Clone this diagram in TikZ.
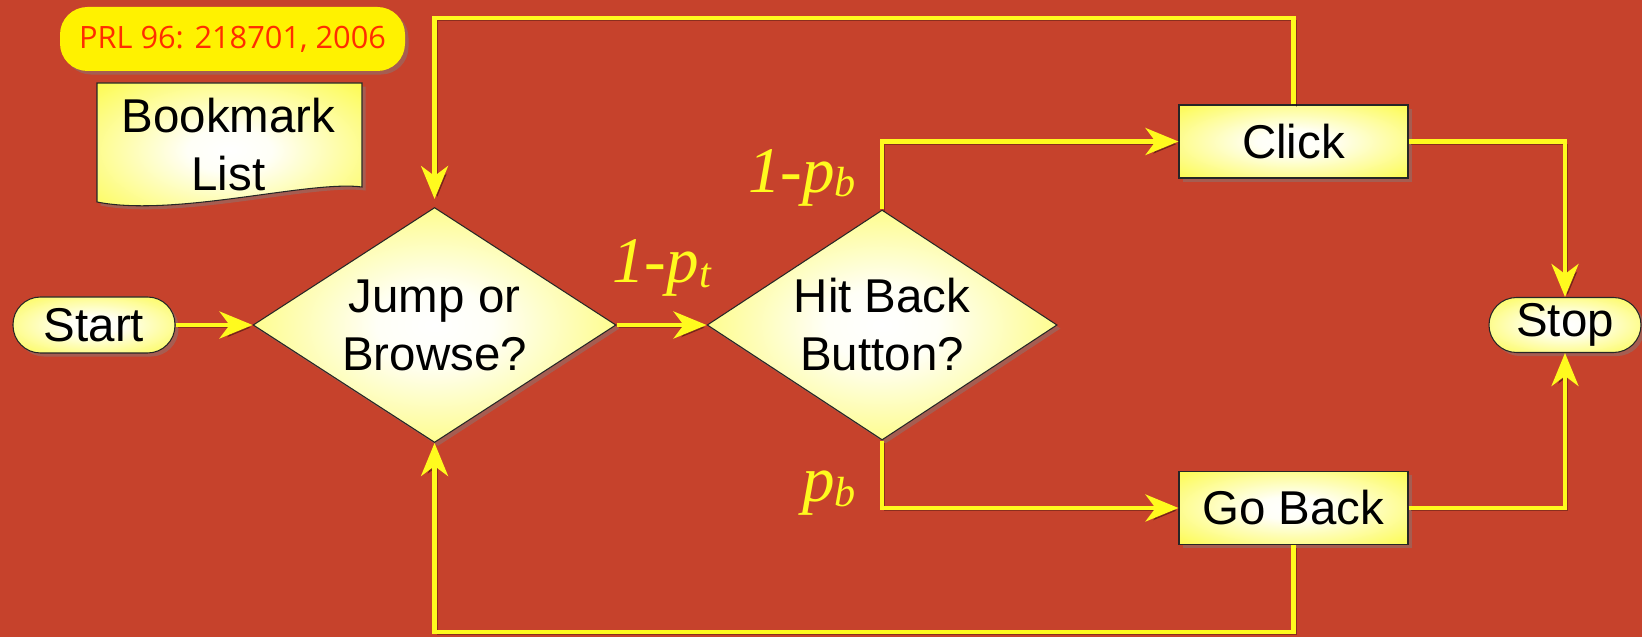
\documentclass[tikz,border=0pt]{standalone}
\usepackage{fontspec}
\setmainfont{Liberation Sans}
\newfontfamily\serifit{Liberation Serif}
\newfontfamily\citefont{Open Sans}
\usepackage{tikz}
\usetikzlibrary{shapes.geometric, arrows.meta, positioning, shadows}

\definecolor{slide}{RGB}{198,66,44}
\definecolor{ylw}{RGB}{255,250,30}
\definecolor{boxylw}{RGB}{252,250,40}
\definecolor{citered}{RGB}{255,45,0}

\pgfdeclareradialshading{glow}{\pgfpoint{0cm}{0cm}}{%
  color(0bp)=(white); color(8bp)=(white!96!boxylw); color(42bp)=(boxylw); color(50bp)=(boxylw)}

\newcommand{\probtxt}[2]{{\serifit\itshape #1\raisebox{-2.5pt}{\fontsize{24}{24}\selectfont #2}}}

\begin{document}
\begin{tikzpicture}[
  shade/.style={drop shadow={opacity=0.45, shadow xshift=2pt, shadow yshift=-2pt}},
  box/.style={draw=black!85, line width=0.6pt, shading=glow,
              align=center, font=\fontsize{27}{33}\selectfont, inner sep=0pt, shade},
  termbox/.style={box, rounded corners=0.55cm, minimum width=3.24cm, minimum height=1.12cm},
  decbox/.style={box, diamond, shape aspect=1.55},
  procbox/.style={box, rectangle, minimum width=4.58cm, minimum height=1.46cm},
  citebox/.style={fill=yellow, rounded corners=0.55cm, minimum width=6.9cm, minimum height=1.28cm,
                  text=citered, font=\citefont\fontsize{17.5}{20}\selectfont, shade},
  flow/.style={draw=ylw, line width=2.4pt, -{Stealth[length=0.66cm, width=0.54cm, inset=0.2cm]},
               preaction={draw=black, opacity=0.3, transform canvas={shift={(1.5pt,-1.5pt)}}}},
  prob/.style={text=ylw, inner sep=0pt, font=\fontsize{37}{37}\selectfont}
]
\fill[slide] (0,0) rectangle (32.84,-12.74);
\useasboundingbox (0,0) rectangle (32.84,-12.74);

\node[citebox] (cite) at (4.65,-0.78) {PRL 96: 218701, 2006};

\path[box] (1.94,-1.66) -- (7.24,-1.66) -- (7.24,-3.74)
  .. controls (6.2,-3.6) and (3.5,-4.35) .. (1.94,-4.04) -- cycle;
\node[align=center, inner sep=0pt, font=\fontsize{27}{33}\selectfont] (bkmk) at (4.57,-2.9) {Bookmark\\List};

\node[termbox] (start) at (1.88,-6.5) {Start};
\node[decbox, minimum width=7.26cm, minimum height=4.7cm, right=1.54cm of start] (jump) {Jump or\\Browse?};
\node[decbox, minimum width=7.0cm, minimum height=4.6cm, right=1.8cm of jump] (hit) {Hit Back\\Button?};
\node[procbox] (click) at (25.87,-2.83) {Click};
\node[procbox] (goback) at (25.87,-10.16) {Go Back};
\node[termbox, minimum width=3.04cm, minimum height=1.1cm] (stop) at (31.3,-6.5) {Stop};

\coordinate (toprail) at (0,-0.36);
\coordinate (botrail) at (0,-12.64);

\path[flow] (start.east) -- (jump.west);
\path[flow] (jump.east) -- node[prob, anchor=base, yshift=0.84cm] {\probtxt{1-p}{t}} (hit.west);
\path[flow] (hit.north) |- node[prob, pos=0, anchor=base east, xshift=-0.48cm, yshift=0.34cm] {\probtxt{1-p}{b}} (click.west);
\path[flow] (hit.south) |- node[prob, pos=0.5, anchor=base east, xshift=-0.48cm, yshift=0.12cm] {\probtxt{p}{b}} (goback.west);
\path[flow] (click.east) -| (stop.north);
\path[flow] (goback.east) -| (stop.south);
\path[flow, shorten >=0.16cm] (click.north) -- (click.north |- toprail) -| (jump.north);
\path[flow] (goback.south) -- (goback.south |- botrail) -| (jump.south);
\end{tikzpicture}
\end{document}
